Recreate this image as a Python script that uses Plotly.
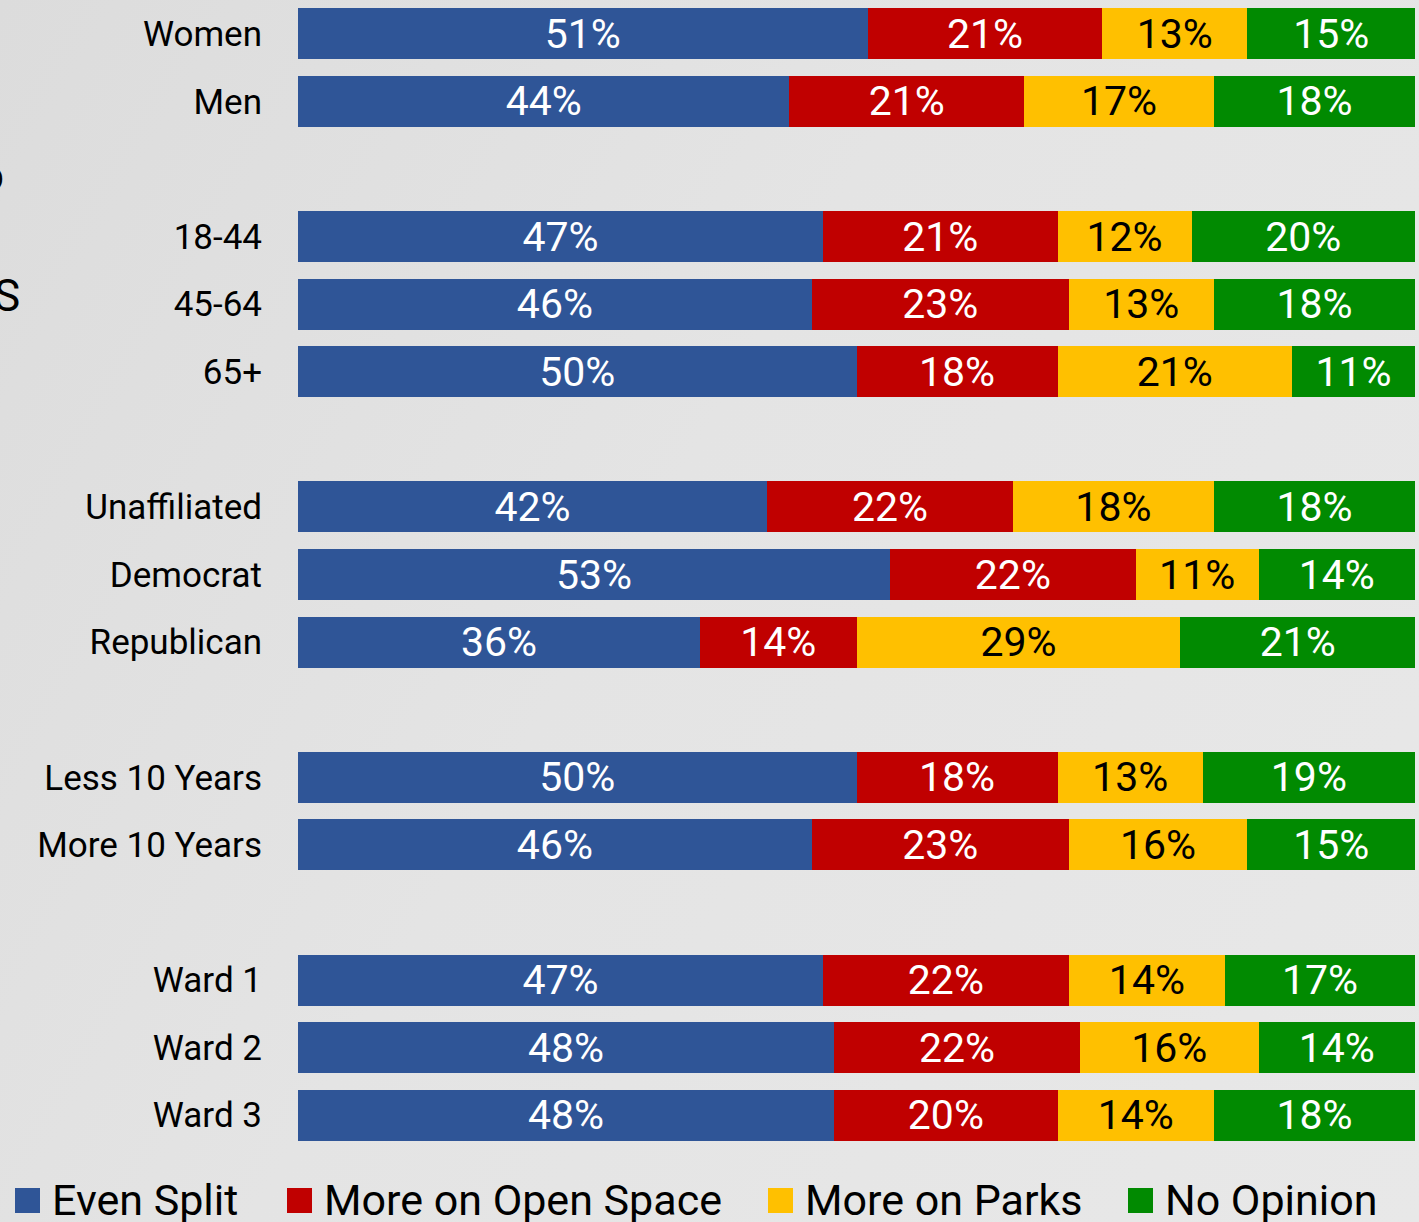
import plotly.graph_objects as go

# Rows top to bottom; None marks an empty gap slot between groups
row_order = ["Women", "Men", None,
             "18-44", "45-64", "65+", None,
             "Unaffiliated", "Democrat", "Republican", None,
             "Less 10 Years", "More 10 Years", None,
             "Ward 1", "Ward 2", "Ward 3"]

series_names = ["Even Split", "More on Open Space", "More on Parks", "No Opinion"]

even_split = {"Women": 51, "Men": 44, "18-44": 47, "45-64": 46, "65+": 50,
              "Unaffiliated": 42, "Democrat": 53, "Republican": 36,
              "Less 10 Years": 50, "More 10 Years": 46,
              "Ward 1": 47, "Ward 2": 48, "Ward 3": 48}
open_space = {"Women": 21, "Men": 21, "18-44": 21, "45-64": 23, "65+": 18,
              "Unaffiliated": 22, "Democrat": 22, "Republican": 14,
              "Less 10 Years": 18, "More 10 Years": 23,
              "Ward 1": 22, "Ward 2": 22, "Ward 3": 20}
parks = {"Women": 13, "Men": 17, "18-44": 12, "45-64": 13, "65+": 21,
         "Unaffiliated": 18, "Democrat": 11, "Republican": 29,
         "Less 10 Years": 13, "More 10 Years": 16,
         "Ward 1": 14, "Ward 2": 16, "Ward 3": 14}
no_opinion = {"Women": 15, "Men": 18, "18-44": 20, "45-64": 18, "65+": 11,
              "Unaffiliated": 18, "Democrat": 14, "Republican": 21,
              "Less 10 Years": 19, "More 10 Years": 15,
              "Ward 1": 17, "Ward 2": 14, "Ward 3": 18}

colors = ["#2f5597", "#c00000", "#ffc000", "#018a01"]
text_colors = ["white", "white", "black", "white"]

labels = [r for r in row_order if r is not None]
ypos = [i for i, r in enumerate(row_order) if r is not None]

W, H = 1419, 1222
ML, MR, MT, MB = 298, 4, 0, 73
PW, PH = W - ML - MR, H - MT - MB


def px(x):
    return (x - ML) / PW


def py(y):
    return 1 - (y - MT) / PH


fig = go.Figure()
for name, vals, col, tcol in zip(series_names, [even_split, open_space, parks, no_opinion],
                                 colors, text_colors):
    v = [vals[r] for r in labels]
    fig.add_trace(go.Bar(
        y=ypos, x=v, name=name, orientation="h", width=0.755,
        marker=dict(color=col, line=dict(width=0)),
        text=[f"{a}%" for a in v], textposition="inside", insidetextanchor="middle",
        textangle=0, constraintext="none",
        insidetextfont=dict(family="Roboto", size=41, color=tcol),
        hoverinfo="skip", showlegend=False,
    ))

# hand-drawn legend (bigger squares than plotly's legend allows)
leg_sq = [15, 287, 768, 1128]
shapes, annos = [], []
for name, col, x0 in zip(series_names, colors, leg_sq):
    shapes.append(dict(type="rect", xref="paper", yref="paper",
                       x0=px(x0), x1=px(x0 + 25), y0=py(1213), y1=py(1188),
                       fillcolor=col, line=dict(width=0)))
    annos.append(dict(xref="paper", yref="paper", x=px(x0 + 35), y=py(1200),
                      xanchor="left", yanchor="middle", showarrow=False,
                      text=name, font=dict(family="Roboto", size=43, color="black")))

# group labels cut off by the left edge of the slide
annos.append(dict(xref="paper", yref="paper", x=px(6), y=py(176), xanchor="right",
                  yanchor="middle", showarrow=False, text="o",
                  font=dict(family="Roboto", size=44, color="black")))
annos.append(dict(xref="paper", yref="paper", x=px(22), y=py(296), xanchor="right",
                  yanchor="middle", showarrow=False, text="S",
                  font=dict(family="Roboto", size=44, color="black")))

fig.update_layout(
    barmode="stack",
    width=W, height=H,
    margin=dict(l=ML, r=MR, t=MT, b=MB, pad=0),
    paper_bgcolor="rgba(0,0,0,0)",
    plot_bgcolor="rgba(0,0,0,0)",
    xaxis=dict(range=[0, 100], visible=False, fixedrange=True),
    yaxis=dict(range=[len(row_order) - 0.5, -0.5], tickmode="array",
               tickvals=ypos, ticktext=labels, showgrid=False, zeroline=False,
               ticks="outside", ticklen=28, tickcolor="rgba(0,0,0,0)",
               tickfont=dict(family="Roboto", size=35, color="black"),
               showline=False, fixedrange=True),
    shapes=shapes,
    annotations=annos,
    uniformtext=dict(mode=False),
)

fig.write_html(
    "out.html",
    post_script="document.body.style.margin='0';"
                "document.documentElement.style.background="
                "'linear-gradient(120deg, #dcdcdc 0%, #e4e4e4 45%, #e8e8e8 100%)';",
    config={"displayModeBar": False},
)
